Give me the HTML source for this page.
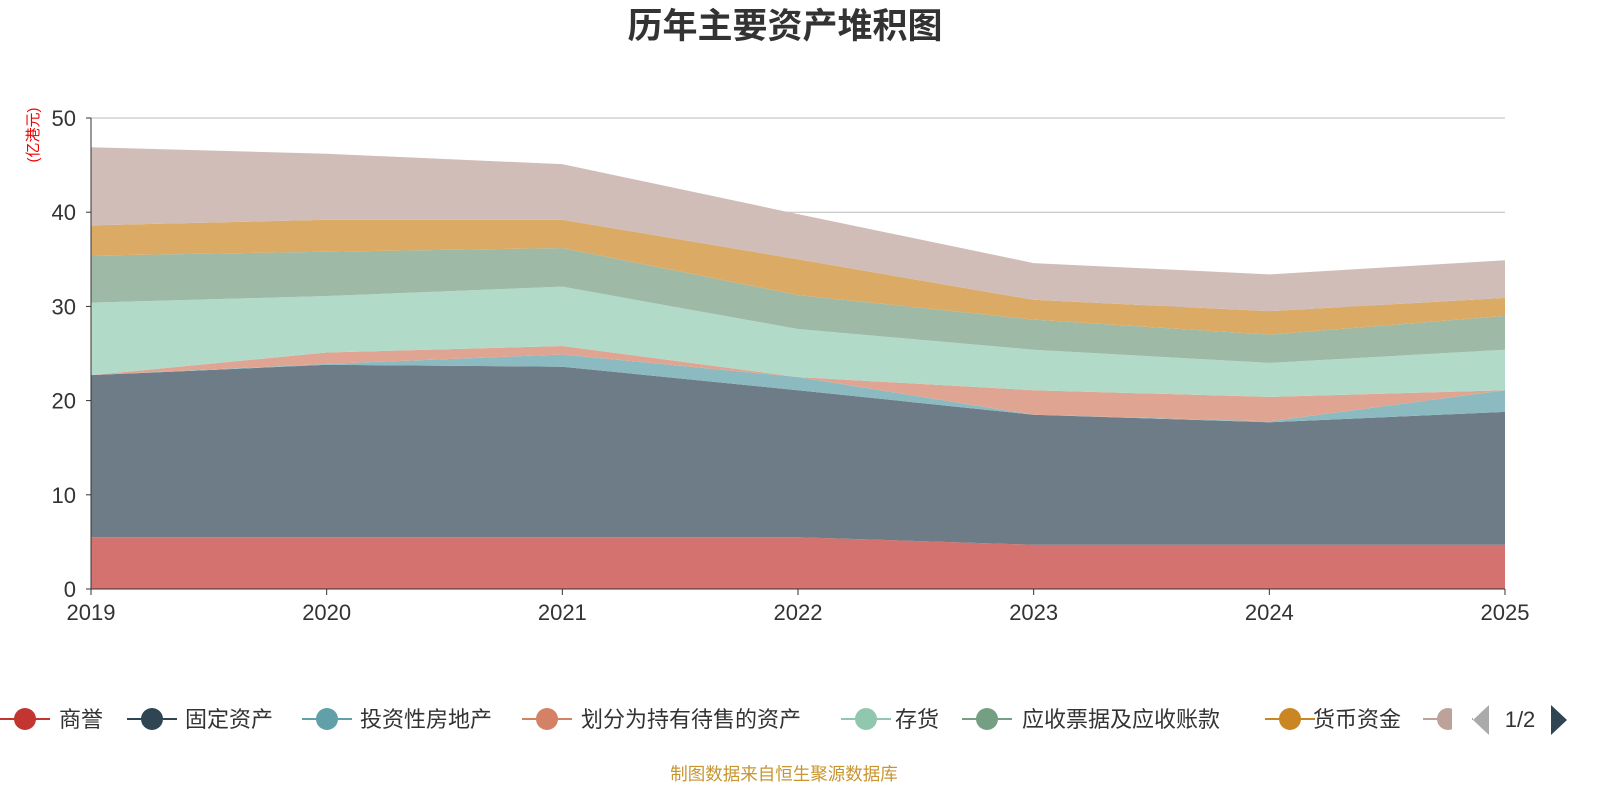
<!DOCTYPE html>
<html><head><meta charset="utf-8"><style>
html,body{margin:0;padding:0;background:#fff;}
svg text{font-family:"Liberation Sans","Noto Sans CJK SC",sans-serif;}
</style></head><body>
<svg id="c" width="1600" height="800" xmlns="http://www.w3.org/2000/svg">
<text x="785" y="38" text-anchor="middle" font-size="35" font-weight="bold" fill="#333">历年主要资产堆积图</text>
<text transform="translate(38,135) rotate(-90)" text-anchor="middle" font-size="15" fill="#e00">(亿港元)</text>
<g id="grid"></g><g id="areas"></g><g id="axes"></g><g id="legend"></g>
<text x="784" y="780" text-anchor="middle" font-size="17.5" fill="#c8952e">制图数据来自恒生聚源数据库</text>
</svg>
<script>
const years=["2019","2020","2021","2022","2023","2024","2025"];
const names=["商誉","固定资产","投资性房地产","划分为持有待售的资产","存货","应收票据及应收账款","货币资金","其他"];
const goodwill=[5.5,5.5,5.5,5.5,4.7,4.7,4.7];
const fixedAssets=[17.2,18.3,18.1,15.6,13.8,13.0,14.1];
const investProp=[0,0.1,1.3,1.4,0,0.1,2.3];
const heldForSale=[0,1.2,0.9,0,2.6,2.6,0];
const inventory=[7.7,6.0,6.3,5.1,4.3,3.6,4.3];
const receivables=[5.0,4.7,4.1,3.6,3.2,3.0,3.6];
const cash=[3.2,3.4,3.0,3.8,2.1,2.5,1.9];
const other=[8.3,7.0,5.9,4.8,3.9,3.9,4.0];
const yTicks=[0,10,20,30,40,50];
const series=[goodwill,fixedAssets,investProp,heldForSale,inventory,receivables,cash,other];
const fills=["#d4726f","#6e7c87","#8bbac0","#e0a592","#b2dac8","#9eb9a6","#dbab66","#d1bdb8"];
const icons=["#c23531","#2f4554","#61a0a8","#d48265","#91c7ae","#749f83","#ca8622","#bda29a"];
const NS="http://www.w3.org/2000/svg";
const X0=91,X1=1505,Y0=589,Y1=118;
const xS=i=>X0+(X1-X0)*i/(years.length-1);
const yS=v=>Y0-(Y0-Y1)*v/50;
function mk(t,a,p){const e=document.createElementNS(NS,t);for(const k in a)e.setAttribute(k,a[k]);p.appendChild(e);return e;}
const grid=document.getElementById('grid'),areas=document.getElementById('areas'),axes=document.getElementById('axes'),leg=document.getElementById('legend');
yTicks.forEach(v=>{
 if(v>0){const l=mk('line',{x1:X0,x2:X1,y1:yS(v),y2:yS(v),stroke:'#bbb','stroke-width':1},grid);
 
 }
 const t=mk('text',{x:76,y:yS(v)+8,'text-anchor':'end','font-size':22,fill:'#333'},axes);t.textContent=v;
 
 
 mk('line',{x1:X0-5,x2:X0,y1:yS(v),y2:yS(v),stroke:'#333'},axes);
});
let base=years.map(()=>0);
series.forEach((s,k)=>{
 const top=base.map((b,i)=>b+s[i]);
 let d='M'+top.map((v,i)=>xS(i)+','+yS(v)).join('L');
 for(let i=years.length-1;i>=0;i--)d+='L'+xS(i)+','+yS(base[i]);
 const p=mk('path',{d:d+'Z',fill:fills[k]},areas);
 
 
 base=top;
});
mk('line',{x1:X0,x2:X0,y1:Y1,y2:Y0,stroke:'#333'},axes);
mk('line',{x1:X0,x2:X1,y1:Y0,y2:Y0,stroke:'#333'},axes);
years.forEach((y,i)=>{
 mk('line',{x1:xS(i),x2:xS(i),y1:Y0,y2:Y0+6,stroke:'#333'},axes);
 const t=mk('text',{x:xS(i),y:620,'text-anchor':'middle','font-size':22,fill:'#333'},axes);t.textContent=y;
 
 
});
const lx=[25,152,327,547,866,987,1290,1448];
const tx=[59,185,360,581,895,1022,1313,0];
names.forEach((n,k)=>{
 const g=mk('g',{},leg);
 
 
 mk('line',{x1:lx[k]-25,x2:lx[k]+25,y1:719,y2:719,stroke:icons[k],'stroke-width':2},g);
 mk('circle',{cx:lx[k],cy:719,r:11,fill:icons[k]},g);
 if(k<7){const t=mk('text',{x:tx[k],y:727,'font-size':22,fill:'#333'},g);t.textContent=n;}
});
mk('rect',{x:1452,y:700,width:20,height:40,fill:'#fff'},leg);
const pl=mk('path',{d:'M1489,705L1473,720L1489,735Z',fill:'#aaa'},leg);


const pt=mk('text',{x:1520,y:727,'text-anchor':'middle','font-size':22,fill:'#333'},leg);pt.textContent='1/2';


const pn=mk('path',{d:'M1551,705L1567,720L1551,735Z',fill:'#2f4554'},leg);


</script>
</body></html>
